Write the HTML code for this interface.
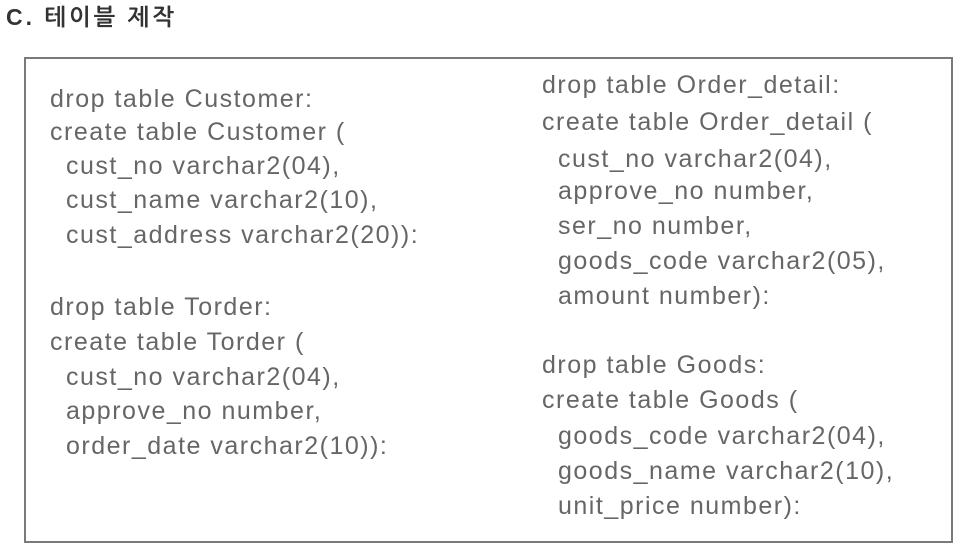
<!DOCTYPE html>
<html><head><meta charset="utf-8"><style>
body{margin:0;width:960px;height:548px;background:#fff;position:relative;overflow:hidden;font-family:"Liberation Sans","NanumGothic","Noto Sans CJK KR",sans-serif}
.t{position:absolute;left:6px;top:4px;font-size:23px;color:#333;font-weight:bold;letter-spacing:3px}
.box{position:absolute;left:24px;top:57px;width:929px;height:486px;border:2px solid #7a7a7a;box-sizing:border-box}
.l{position:absolute;font-size:25px;color:#666;white-space:pre;line-height:1;letter-spacing:1.5px;top:-1px}
</style></head><body>
<div class="t">C. 테이블 제작</div>
<div class="box"></div>
<div class="l" style="left:50px;top:87px">drop table Customer:</div>
<div class="l" style="left:50px;top:120px">create table Customer (</div>
<div class="l" style="left:66px;top:154px">cust_no varchar2(04),</div>
<div class="l" style="left:66px;top:188px">cust_name varchar2(10),</div>
<div class="l" style="left:66px;top:223px">cust_address varchar2(20)):</div>
<div class="l" style="left:50px;top:295px">drop table Torder:</div>
<div class="l" style="left:50px;top:330px">create table Torder (</div>
<div class="l" style="left:66px;top:365px">cust_no varchar2(04),</div>
<div class="l" style="left:66px;top:399px">approve_no number,</div>
<div class="l" style="left:66px;top:434px">order_date varchar2(10)):</div>
<div class="l" style="left:542px;top:73px">drop table Order_detail:</div>
<div class="l" style="left:542px;top:110px">create table Order_detail (</div>
<div class="l" style="left:558px;top:147px">cust_no varchar2(04),</div>
<div class="l" style="left:558px;top:179px">approve_no number,</div>
<div class="l" style="left:558px;top:214px">ser_no number,</div>
<div class="l" style="left:558px;top:249px">goods_code varchar2(05),</div>
<div class="l" style="left:558px;top:284px">amount number):</div>
<div class="l" style="left:542px;top:353px">drop table Goods:</div>
<div class="l" style="left:542px;top:388px">create table Goods (</div>
<div class="l" style="left:558px;top:424px">goods_code varchar2(04),</div>
<div class="l" style="left:558px;top:459px">goods_name varchar2(10),</div>
<div class="l" style="left:558px;top:494px">unit_price number):</div>
</body></html>
